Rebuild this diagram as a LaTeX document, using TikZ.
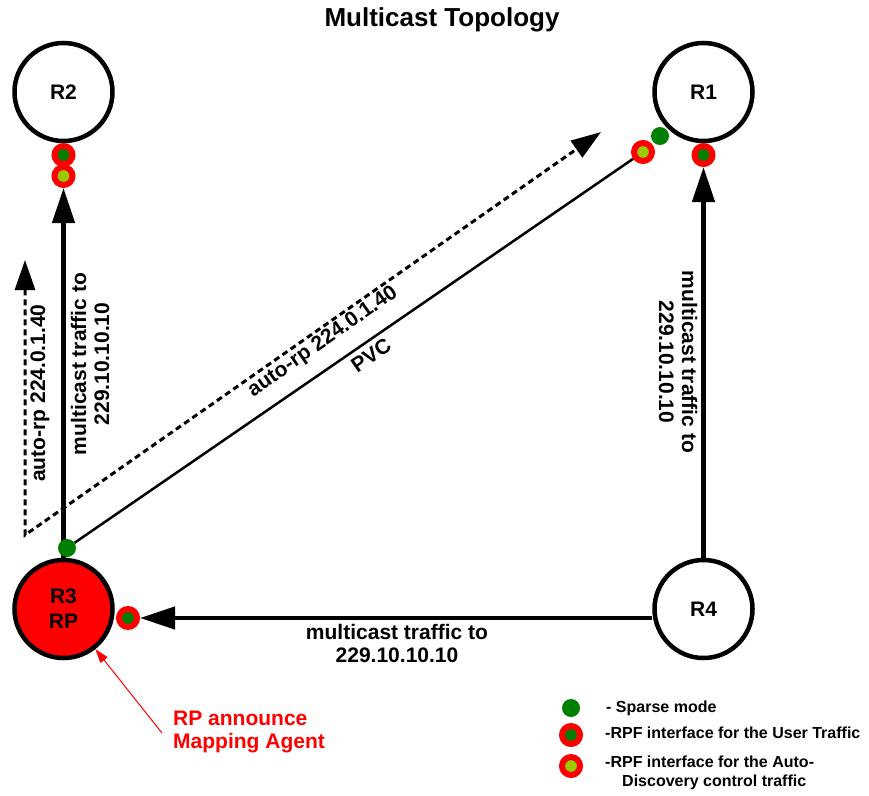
\documentclass[tikz,border=0pt]{standalone}
\usepackage{fontspec}
\setmainfont{Liberation Sans}
\usetikzlibrary{arrows.meta,backgrounds}
\definecolor{rpred}{RGB}{255,0,0}
\definecolor{smgreen}{RGB}{0,128,0}
\definecolor{adyellow}{RGB}{153,204,0}

\begin{document}
\begin{tikzpicture}[x=1pt,y=-1pt,
  router/.style={circle, draw=black, fill=white, line width=4.5pt, minimum size=98pt,
    inner sep=0pt, align=center, font=\fontsize{21}{25}\selectfont\bfseries},
  sparsedot/.style={circle, fill=smgreen, minimum size=18pt, inner sep=0pt},
  rpfuser/.style={circle, fill=smgreen, draw=rpred, line width=6pt, minimum size=18pt, inner sep=0pt},
  rpfauto/.style={circle, fill=adyellow, draw=rpred, line width=6pt, minimum size=18pt, inner sep=0pt},
  lbl/.style={font=\fontsize{21}{23}\selectfont\bfseries, align=center, inner sep=0pt},
  legendtext/.style={font=\fontsize{16}{18.5}\selectfont\bfseries, align=left, anchor=west, inner sep=0pt},
  bigarrow/.style={line width=4.5pt, -{Triangle[length=35pt,width=22pt]}},
  autorp/.style={line width=3pt, dash pattern=on 6pt off 4pt,
    {Triangle[length=30pt,width=20pt]}-{Triangle[length=30pt,width=20pt]}},
  pvc/.style={line width=2.5pt},
  callout/.style={draw=rpred, line width=1pt, -{Triangle[length=14pt,width=9pt]}}
]
\useasboundingbox (0,0) rectangle (869,795);

% title
\node[font=\fontsize{26}{30}\selectfont\bfseries] (title) at (442,20) {Multicast Topology};

% routers
\node[router] (R2) at (63.5,92) {R2};
\node[router] (R1) at (703.5,92) {R1};
\node[router, fill=rpred] (R3) at (63.5,609) {R3\\RP};
\node[router] (R4) at (703.5,609) {R4};

% interface markers
\node[rpfuser] (r2u) at (63.5,155) {};
\node[rpfauto] (r2ad) at (63.5,176) {};
\node[sparsedot] (sm1) at (660,136) {};
\node[rpfauto] (r1ad) at (643,152) {};
\node[rpfuser] (r1u) at (703.5,155) {};
\node[sparsedot] (sm3) at (67,548) {};
\node[rpfuser] (r3u) at (128,618) {};

% free ends of the auto-rp announcement path
\coordinate (adtop) at (25,260);
\coordinate (adcorner) at (25,535);
\coordinate (adend) at (601,132);
\coordinate (calloutstart) at (162,733);

\begin{scope}[on background layer]
  \fill[white] (0,0) rectangle (869,795);
  \draw[bigarrow] (R3) -- (r2ad);
  \draw[bigarrow] (R4) -- (r1u);
  \draw[bigarrow] (R4.west |- r3u) -- (r3u);
  \draw[pvc] (sm3) -- (r1ad);
  \draw[autorp] (adtop) -- (adcorner) -- (adend);
\end{scope}

% link labels
\node[lbl, rotate=90] (lblleft) at (90,364) {multicast traffic to\\229.10.10.10};
\node[lbl, rotate=90] (lblad) at (40,393) {auto-rp 224.0.1.40};
\node[lbl, rotate=-90] (lblright) at (678,362) {multicast traffic to\\229.10.10.10};
\node[lbl, rotate=35] (lbldiag) at (323,342) {auto-rp 224.0.1.40};
\node[lbl, rotate=34.4] (lblpvc) at (371,355) {PVC};
\node[lbl] (lblbottom) at (397,643) {multicast traffic to\\229.10.10.10};

% callout for the RP role
\node[lbl, text=rpred, align=left, anchor=west] (rpnote) at (173,732) {RP announce\\Mapping Agent};
\draw[callout] (calloutstart) -- (R3);

% legend
\node[sparsedot] (legsm) at (571,708) {};
\node[rpfuser] (legu) at (571,735) {};
\node[rpfauto] (legad) at (571,766) {};
\node[legendtext] (legsmtxt) at (606,708) {- Sparse mode};
\node[legendtext] (legutxt) at (605,733) {-RPF interface for the User Traffic};
\node[legendtext, anchor=north west] (legadtxt) at (605,756) {-RPF interface for the Auto-\\\hspace*{17pt}Discovery control traffic};
\end{tikzpicture}
\end{document}
